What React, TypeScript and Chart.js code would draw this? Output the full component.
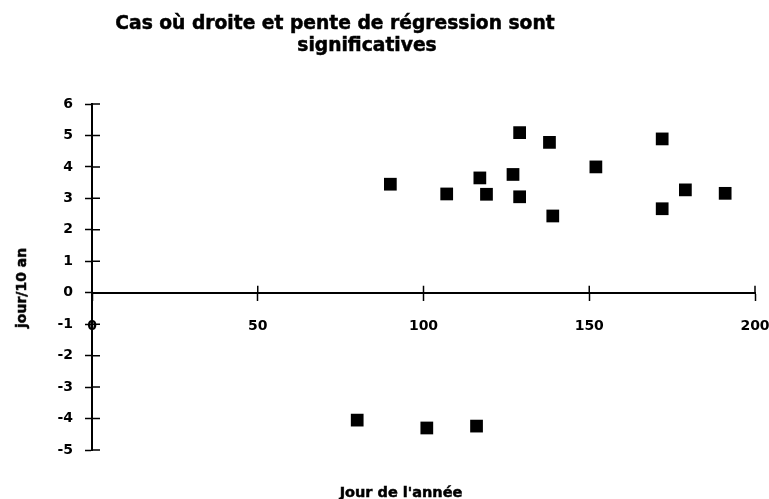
import React, { useEffect, useRef } from "react";
import { Chart, registerables } from "chart.js";

Chart.register(...registerables);

// ---- Data ----
const TITLE_LINES = ["Cas où droite et pente de régression sont", "significatives"];
const X_TITLE = "Jour de l'année";
const Y_TITLE = "jour/10 an";

const DAYS = [80, 101, 116, 90, 107, 117, 119, 127, 129, 129, 138, 139, 152, 172, 172, 179, 191];
const TRENDS = [-4.05, -4.3, -4.24, 3.45, 3.14, 3.65, 3.13, 3.76, 3.05, 5.09, 4.78, 2.44, 4.0, 4.89, 2.67, 3.27, 3.16];

const X_TICKS = [0, 50, 100, 150, 200];
const Y_TICKS = [-5, -4, -3, -2, -1, 0, 1, 2, 3, 4, 5, 6];

const FONT = "'DejaVu Sans', 'Liberation Sans', Arial, sans-serif";

// Draws the inner half of the tick marks so that they cross the axis lines.
const crossTicks = {
  id: "crossTicks",
  afterDatasetsDraw(chart: any) {
    const { ctx, scales } = chart;
    const xs = scales.x;
    const ys = scales.y;
    const y0 = ys.getPixelForValue(0);
    const xLeft = ys.right;
    ctx.save();
    ctx.strokeStyle = "#000";
    ctx.lineWidth = 1.5;
    ctx.beginPath();
    xs.ticks.forEach((t: any) => {
      const px = xs.getPixelForValue(t.value);
      ctx.moveTo(px, y0 - 7);
      ctx.lineTo(px, y0);
    });
    ys.ticks.forEach((t: any) => {
      const py = ys.getPixelForValue(t.value);
      ctx.moveTo(xLeft, py);
      ctx.lineTo(xLeft + 8, py);
    });
    ctx.stroke();
    ctx.restore();
  },
};

export default function App() {
  const canvasRef = useRef<HTMLCanvasElement | null>(null);

  useEffect(() => {
    const canvas = canvasRef.current;
    if (!canvas) return;
    const points = DAYS.map((d, i) => ({ x: d, y: TRENDS[i] }));
    const chart = new Chart(canvas, {
      type: "scatter",
      data: {
        datasets: [
          {
            data: points,
            pointStyle: "rect",
            pointRadius: 9,
            pointHoverRadius: 9,
            backgroundColor: "#000000",
            borderColor: "#000000",
            borderWidth: 0,
          },
        ],
      },
      plugins: [crossTicks],
      options: {
        animation: false,
        responsive: true,
        maintainAspectRatio: false,
        layout: { padding: { top: 104, right: 14, bottom: 49, left: 52 } },
        plugins: {
          legend: { display: false },
          tooltip: { enabled: false },
          title: { display: false },
        },
        scales: {
          x: {
            type: "linear",
            position: { y: 0 } as any,
            min: X_TICKS[0],
            max: X_TICKS[X_TICKS.length - 1],
            afterBuildTicks: (s: any) => {
              s.ticks = X_TICKS.map((v) => ({ value: v }));
            },
            afterFit: (s: any) => {
              s.height = 42;
              s.paddingLeft = 0;
              s.paddingRight = 0;
              s.paddingTop = 0;
              s.paddingBottom = 0;
            },
            border: { display: true, color: "#000", width: 2 },
            grid: {
              display: true,
              drawOnChartArea: false,
              drawTicks: true,
              tickLength: 7,
              tickWidth: 1.5,
              tickColor: "#000",
            },
            ticks: {
              color: "#000",
              padding: 18,
              maxRotation: 0,
              autoSkip: false,
              font: { family: FONT, size: 14, weight: "bold" },
            },
          },
          y: {
            type: "linear",
            position: "left",
            min: Y_TICKS[0],
            max: Y_TICKS[Y_TICKS.length - 1],
            afterBuildTicks: (s: any) => {
              s.ticks = Y_TICKS.map((v) => ({ value: v }));
            },
            afterFit: (s: any) => {
              s.width = 40;
              s.paddingLeft = 0;
              s.paddingRight = 0;
              s.paddingTop = 0;
              s.paddingBottom = 0;
            },
            border: { display: true, color: "#000", width: 2 },
            grid: {
              display: true,
              drawOnChartArea: false,
              drawTicks: true,
              tickLength: 7,
              tickWidth: 1.5,
              tickColor: "#000",
            },
            ticks: {
              color: "#000",
              padding: 12,
              autoSkip: false,
              font: { family: FONT, size: 14, weight: "bold" },
            },
          },
        },
      },
    });
    return () => chart.destroy();
  }, []);

  const textBase: React.CSSProperties = {
    position: "absolute",
    fontFamily: FONT,
    fontWeight: "bold",
    color: "#000",
    whiteSpace: "nowrap",
    lineHeight: 1,
    WebkitTextStroke: "0.5px #000",
  };

  return (
    <div
      style={{
        position: "fixed",
        left: 0,
        top: 0,
        width: 769,
        height: 499,
        background: "#fff",
        overflow: "hidden",
      }}
    >
      <canvas ref={canvasRef} style={{ position: "absolute", left: 0, top: 0, width: 769, height: 499 }} />
      <div style={{ ...textBase, fontSize: 18.7, left: 335, top: 13.5, transform: "translateX(-50%)" }}>
        {TITLE_LINES[0]}
      </div>
      <div style={{ ...textBase, fontSize: 18.7, left: 367, top: 36, transform: "translateX(-50%)" }}>
        {TITLE_LINES[1]}
      </div>
      <div
        style={{
          ...textBase,
          fontSize: 14,
          left: 21,
          top: 288,
          transform: "translate(-50%, -50%) rotate(-90deg)",
        }}
      >
        {Y_TITLE}
      </div>
      <div style={{ ...textBase, fontSize: 14.5, left: 401, top: 492, transform: "translate(-50%, -50%)" }}>
        {X_TITLE}
      </div>
    </div>
  );
}
